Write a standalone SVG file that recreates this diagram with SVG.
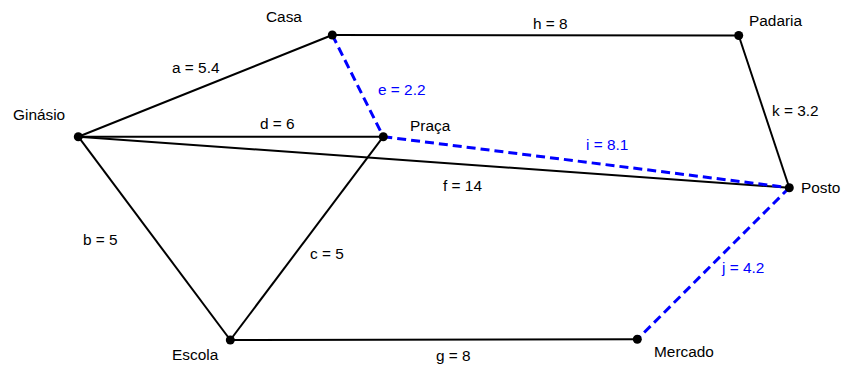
<svg xmlns="http://www.w3.org/2000/svg" width="842" height="367" viewBox="0 0 842 367">
<style>
text{font-family:"Liberation Sans",Arial,sans-serif;font-size:15.4px;fill:#000}
.bl{fill:#0000ff}
.e{stroke:#000;stroke-width:2;fill:none}
.d{stroke:#0000ff;stroke-width:3;fill:none;stroke-dasharray:9,5}
.pt{fill:#000}
</style>
<rect width="842" height="367" fill="#fff"/>
<g id="connectors">
<line class="e" x1="78.3" y1="136.7" x2="332.3" y2="35"/>
<line class="e" x1="332.3" y1="35" x2="738.7" y2="35.5"/>
<line class="e" x1="738.7" y1="35.5" x2="789.3" y2="187.7"/>
<line class="e" x1="78.3" y1="136.7" x2="383.3" y2="136.7"/>
<line class="e" x1="78.3" y1="136.7" x2="789.3" y2="187.7"/>
<line class="e" x1="78.3" y1="136.7" x2="230.3" y2="340"/>
<line class="e" x1="383.3" y1="136.7" x2="230.3" y2="340"/>
<line class="e" x1="230.3" y1="340" x2="637.3" y2="339.3"/>
<line class="d" x1="332.3" y1="35" x2="383.3" y2="136.7"/>
<line class="d" x1="383.3" y1="136.7" x2="789.3" y2="187.7"/>
<line class="d" x1="789.3" y1="187.7" x2="637.3" y2="339.3"/>
<text x="172" y="73">a = 5.4</text>
<text x="533" y="29">h = 8</text>
<text class="bl" x="378" y="95">e = 2.2</text>
<text x="260" y="129">d = 6</text>
<text x="772" y="116">k = 3.2</text>
<text class="bl" x="586" y="150">i = 8.1</text>
<text x="443" y="191">f = 14</text>
<text x="83" y="245">b = 5</text>
<text x="310" y="259">c = 5</text>
<text class="bl" x="722" y="273">j = 4.2</text>
<text x="436" y="361">g = 8</text>
</g>
<g id="casa"><circle class="pt" cx="332.3" cy="35" r="4.5"/><text x="266" y="22">Casa</text></g>
<g id="padaria"><circle class="pt" cx="738.7" cy="35.5" r="4.5"/><text x="749" y="26">Padaria</text></g>
<g id="ginasio"><circle class="pt" cx="78.3" cy="136.7" r="4.5"/><text x="13" y="120">Ginásio</text></g>
<g id="praca"><circle class="pt" cx="383.3" cy="136.7" r="4.5"/><text x="410" y="131">Praça</text></g>
<g id="posto"><circle class="pt" cx="789.3" cy="187.7" r="4.5"/><text x="801" y="193">Posto</text></g>
<g id="escola"><circle class="pt" cx="230.3" cy="340" r="4.5"/><text x="172" y="360">Escola</text></g>
<g id="mercado"><circle class="pt" cx="637.3" cy="339.3" r="4.5"/><text x="654" y="357">Mercado</text></g>
</svg>
